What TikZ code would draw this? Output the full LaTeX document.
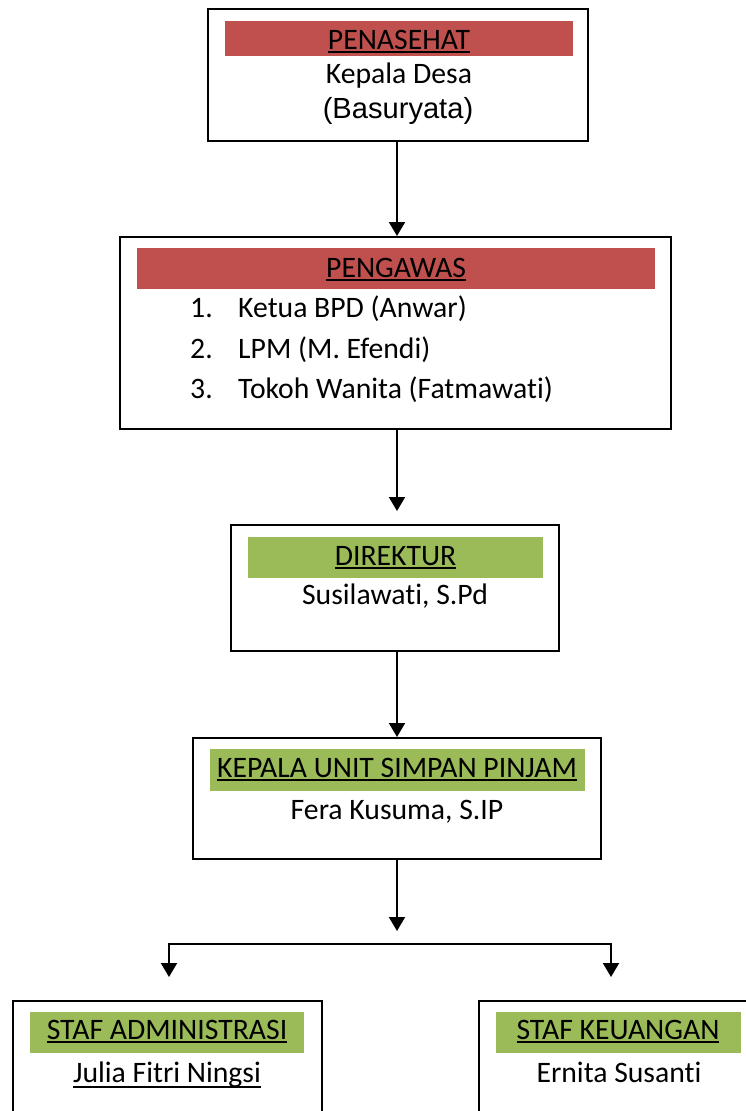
\documentclass[tikz,border=0pt]{standalone}
\usepackage{fontspec}
\setmainfont{Carlito}[Ligatures=NoCommon]
\newfontfamily\arialf{Liberation Sans}
\usetikzlibrary{arrows.meta}
\definecolor{barred}{HTML}{C0504D}
\definecolor{bargreen}{HTML}{9BBB59}
\newcommand\ulin[2][-4.2pt]{\setbox0\hbox{#2}\rlap{\rule[#1]{\wd0}{1.8pt}}\box0}
\begin{document}
\begin{tikzpicture}[x=1pt,y=-1pt,
  box/.style={draw, line width=2pt, inner sep=0pt},
  bar/.style={fill=#1, inner sep=0pt},
  txt/.style={anchor=base, inner sep=0pt, font=\fontsize{29.7}{35}\selectfont},
  arr/.style={line width=2pt, -{Triangle[width=16pt,length=14pt]}}]
\path[use as bounding box] (0,0) rectangle (746,1111);
\clip (0,0) rectangle (746,1111);
\fill[white] (0,0) rectangle (746,1111);

% Box 1
\node[box, minimum width=380pt, minimum height=132pt] (b1) at (398,75) {};
\node[bar=barred, minimum width=348pt, minimum height=35pt] (r1) at (399,38.5) {};
\node[txt] (t1a) at (399,49) {\ulin{PENASEHAT}};
\node[txt] (t1b) at (399,83) {Kepala Desa};
\node[txt, font=\arialf\fontsize{29.1}{34}\selectfont] (t1c) at (398,118) {(Basuryata)};

% Box 2
\node[box, minimum width=551pt, minimum height=192pt] (b2) at (395.5,333) {};
\node[bar=barred, minimum width=518pt, minimum height=41pt] (r2) at (396,268.5) {};
\node[txt] (t2a) at (396,277) {\ulin{PENGAWAS}};
\node[txt, anchor=base west] (n1) at (190,317) {1.};
\node[txt, anchor=base west] (i1) at (238,317) {Ketua BPD (Anwar)};
\node[txt, anchor=base west] (n2) at (190,358) {2.};
\node[txt, anchor=base west] (i2) at (238,358) {LPM (M. Efendi)};
\node[txt, anchor=base west] (n3) at (190,398) {3.};
\node[txt, anchor=base west] (i3) at (238,398) {Tokoh Wanita (Fatmawati)};

% Box 3
\node[box, minimum width=328pt, minimum height=126pt] (b3) at (395,588) {};
\node[bar=bargreen, minimum width=295pt, minimum height=41pt] (g3) at (395.5,557.5) {};
\node[txt] (t3a) at (395.5,565) {\ulin{DIREKTUR}};
\node[txt] (t3b) at (395,604) {Susilawati, S.Pd};

% Box 4
\node[box, minimum width=408pt, minimum height=121pt] (b4) at (397,798.5) {};
\node[bar=bargreen, minimum width=375pt, minimum height=42pt] (g4) at (397.5,770) {};
\node[txt] (t4a) at (397,777) {\ulin{KEPALA UNIT SIMPAN PINJAM}};
\node[txt] (t4b) at (397,819) {Fera Kusuma, S.IP};

% Box 5
\node[box, minimum width=309pt, minimum height=199pt] (b5) at (167.5,1100.5) {};
\node[bar=bargreen, minimum width=274pt, minimum height=41pt] (g5) at (167,1032.5) {};
\node[txt] (t5a) at (167,1039) {\ulin{STAF ADMINISTRASI}};
\node[txt] (t5b) at (167,1082) {\ulin[-5.5pt]{Julia Fitri Ningsi}};

% Box 6
\node[box, minimum width=279pt, minimum height=199pt] (b6) at (618.5,1100.5) {};
\node[bar=bargreen, minimum width=245pt, minimum height=41pt] (g6) at (618.5,1032.5) {};
\node[txt] (t6a) at (618,1039) {\ulin{STAF KEUANGAN}};
\node[txt] (t6b) at (619,1082) {Ernita Susanti};

% Connectors
\coordinate (sp) at (397,0);
\coordinate (fork) at (397,944);
\coordinate (dl) at (169,1001);
\coordinate (dr) at (611,1001);
\draw[arr] (b1.south -| sp) -- (b2.north -| sp);
\draw[arr, shorten >=13pt] (b2.south -| sp) -- (b3.north -| sp);
\draw[arr] (b3.south -| sp) -- (b4.north -| sp);
\draw[arr, shorten >=13pt] (b4.south -| sp) -- (fork);
\draw[arr, shorten >=24pt] (fork) -| (dl);
\draw[arr, shorten >=24pt] (fork) -| (dr);
\end{tikzpicture}
\end{document}
